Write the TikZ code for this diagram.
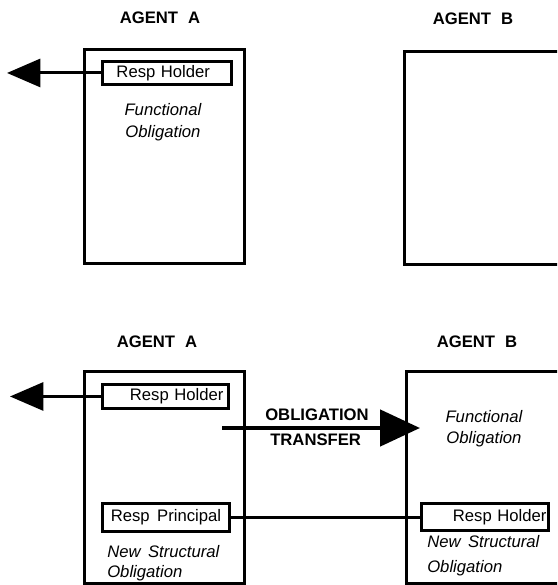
\documentclass[tikz,border=0pt]{standalone}
\usepackage{fontspec}
\setmainfont{Liberation Sans}
\usetikzlibrary{arrows.meta}
\begin{document}
\begin{tikzpicture}[x=0.75pt,y=-0.75pt,
  every node/.style={font=\fontsize{12.5}{15}\selectfont},
  agentbox/.style={draw, line width=2.2pt, inner sep=0pt, anchor=north west},
  respbox/.style={draw, line width=2.2pt, inner ysep=0pt, anchor=north west},
  title/.style={font=\fontsize{12.5}{15}\selectfont\bfseries, anchor=base, inner sep=0pt},
  note/.style={font=\fontsize{12.5}{15}\selectfont\itshape, inner sep=0pt},
  bold/.style={font=\fontsize{12.5}{15}\selectfont\bfseries, inner sep=0pt, anchor=base west},
  outarrow/.style={line width=2.2pt, -{Triangle[length=25pt,width=21pt]}},
  bigarrow/.style={line width=3.6pt, -{Triangle[length=30pt,width=27pt]}},
  link/.style={line width=1.6pt}
]
\useasboundingbox (0,0) rectangle (557,585);
\clip (0,0) rectangle (557,585);

% ---------- top panel ----------
\node[title] (agA1) at (160,24) {AGENT\hspace{0.6em}A};
\node[title] (agB1) at (473,25) {AGENT\hspace{0.6em}B};

\node[agentbox, minimum width=120pt, minimum height=160.5pt] (boxA1) at (83,48) {};
\node[agentbox, minimum width=123pt, minimum height=159.75pt] (boxB1) at (403,50) {};

\node[respbox, inner xsep=10.5pt, text width=75.75pt, align=left,
      minimum height=17.25pt] (rhA1) at (101,60) {Resp Holder};
\coordinate (tA1) at (7,0);
\draw[outarrow] (rhA1.west) -- (rhA1.west -| tA1);

\node[note, anchor=base] (foA1a) at (163,115) {Functional};
\node[note, anchor=base] (foA1b) at (163,137) {Obligation};

% ---------- bottom panel ----------
\node[title] (agA2) at (157,347) {AGENT\hspace{0.6em}A};
\node[title] (agB2) at (477,347) {AGENT\hspace{0.6em}B};

\node[agentbox, minimum width=120pt, minimum height=159pt] (boxA2) at (83,370) {};
\node[agentbox, minimum width=123pt, minimum height=159pt] (boxB2) at (405,370) {};

\node[respbox, inner xsep=3.75pt, text width=87pt, align=right,
      minimum height=18pt] (rhA2) at (101,383) {Resp Holder};
\coordinate (tA2) at (10,0);
\draw[outarrow] (rhA2.west) -- (rhA2.west -| tA2);

\node[respbox, inner xsep=1.5pt, text width=92.25pt, align=center,
      minimum height=21pt] (rpA2) at (101,502) {Resp\hspace{0.45em}Principal};
\node[note, anchor=base west] (nsA2a) at (107,557) {New\hspace{0.45em}Structural};
\node[note, anchor=base west] (nsA2b) at (107,577) {Obligation};

\node[respbox, inner xsep=1.5pt, text width=92.25pt, align=right,
      minimum height=20pt] (rhB2) at (420,502) {Resp Holder};
\node[note, anchor=base west] (nsB2a) at (427,547) {New\hspace{0.45em}Structural};
\node[note, anchor=base west] (nsB2b) at (427,572) {Obligation};

\node[note, anchor=base] (foB2a) at (484,422) {Functional};
\node[note, anchor=base] (foB2b) at (484,443) {Obligation};

\draw[link] (rpA2.east) -- (rpA2.east -| rhB2.west);

% obligation transfer
\coordinate (trS) at (222,428);
\coordinate (trE) at (420,428);
\draw[bigarrow] (trS) -- (trE);
\node[bold] (obl) at (265,420) {OBLIGATION};
\node[bold] (trf) at (270,445) {TRANSFER};
\end{tikzpicture}
\end{document}
